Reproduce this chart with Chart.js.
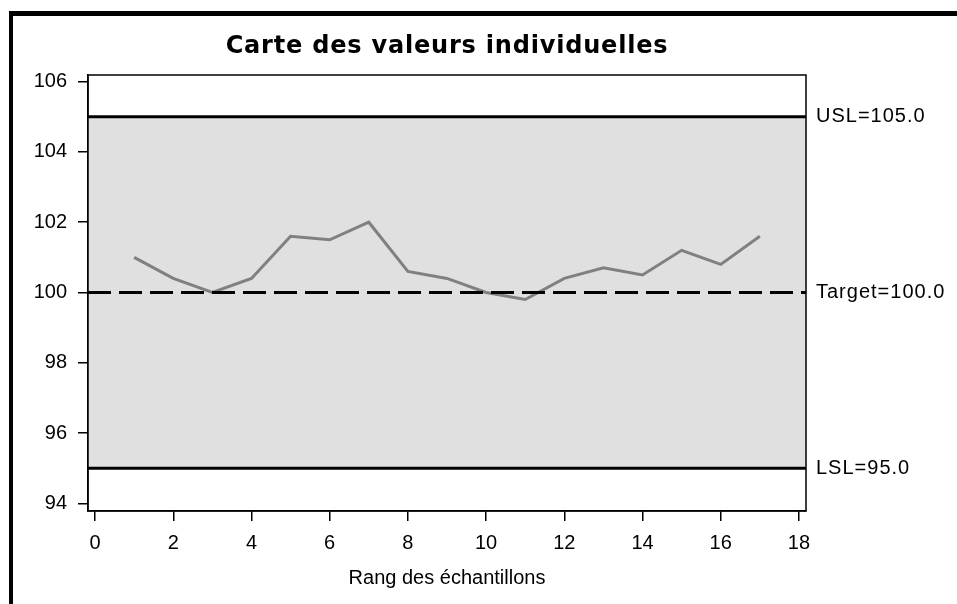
<!DOCTYPE html>
<html>
<head>
<meta charset="utf-8">
<script src="https://cdn.jsdelivr.net/npm/chart.js@4/dist/chart.umd.min.js"></script>
<style>
  html, body { margin: 0; padding: 0; background: #fff; }
  #wrap { position: absolute; left: 0; top: 0; width: 957px; height: 604px; }
</style>
</head>
<body>
<div id="wrap"><canvas id="c" width="957" height="604"></canvas></div>
<script>
// ---- data ----
const samples = [1, 2, 3, 4, 5, 6, 7, 8, 9, 10, 11, 12, 13, 14, 15, 16, 17];
const values  = [101.0, 100.4, 100.0, 100.4, 101.6, 101.5, 102.0, 100.6, 100.4, 100.0, 99.8, 100.4, 100.7, 100.5, 101.2, 100.8, 101.6];
const xTicks = [0, 2, 4, 6, 8, 10, 12, 14, 16, 18];
const yTicks = [94, 96, 98, 100, 102, 104, 106];
const specNames = ['USL', 'Target', 'LSL'];
const specValues = [105.0, 100.0, 95.0];
const titleText = 'Carte des valeurs individuelles';
const xTitleText = 'Rang des échantillons';

const USL = specValues[0], TARGET = specValues[1], LSL = specValues[2];
const tickFont = { family: '"Liberation Sans", Arial, sans-serif', size: 20 };
const titleFont = 'bold 24px "DejaVu Sans", sans-serif';

const specPlugin = {
  id: 'spec',
  beforeDraw(chart) {
    const ctx = chart.ctx;
    ctx.save();
    ctx.fillStyle = '#000';
    ctx.fillRect(9, 11, 957 - 9, 5);
    ctx.fillRect(9, 11, 4, 604 - 11);
    ctx.restore();
  },
  beforeDatasetsDraw(chart) {
    const { ctx, chartArea: a, scales: { y } } = chart;
    ctx.save();
    const yU = y.getPixelForValue(USL), yL = y.getPixelForValue(LSL);
    ctx.fillStyle = '#e0e0e0';
    ctx.fillRect(a.left, yU, a.right - a.left, yL - yU);
    ctx.restore();
  },
  afterDatasetsDraw(chart) {
    const { ctx, chartArea: a, scales: { y } } = chart;
    ctx.save();
    ctx.strokeStyle = '#000';
    ctx.lineWidth = 3;
    [USL, LSL].forEach(v => {
      const py = y.getPixelForValue(v);
      ctx.beginPath(); ctx.moveTo(a.left, py); ctx.lineTo(a.right, py); ctx.stroke();
    });
    const pt = y.getPixelForValue(TARGET);
    ctx.setLineDash([23, 8]);
    ctx.beginPath(); ctx.moveTo(a.left, pt); ctx.lineTo(a.right, pt); ctx.stroke();
    ctx.setLineDash([]);
    // frame
    ctx.lineWidth = 1.5;
    ctx.strokeRect(a.left, a.top, a.right - a.left, a.bottom - a.top);
    // spec labels
    ctx.fillStyle = '#000';
    ctx.font = tickFont.size + 'px ' + tickFont.family;
    ctx.letterSpacing = '1px';
    ctx.textAlign = 'left';
    ctx.textBaseline = 'middle';
    specNames.forEach((n, i) => {
      ctx.fillText(n + '=' + specValues[i].toFixed(1), a.right + 10, y.getPixelForValue(specValues[i]));
    });
    // title centred over the plot area
    ctx.font = titleFont;
    ctx.letterSpacing = '0.8px';
    ctx.textAlign = 'center';
    ctx.textBaseline = 'alphabetic';
    ctx.fillText(titleText, (a.left + a.right) / 2, 53);
    ctx.restore();
  }
};

new Chart(document.getElementById('c'), {
  type: 'line',
  data: {
    datasets: [{
      data: samples.map((s, i) => ({ x: s, y: values[i] })),
      borderColor: '#808080',
      borderWidth: 3,
      pointRadius: 0,
      tension: 0,
      fill: false
    }]
  },
  options: {
    responsive: false,
    animation: false,
    devicePixelRatio: 1,
    layout: { padding: { left: 0, right: 151, top: 75, bottom: 0 } },
    plugins: {
      legend: { display: false },
      tooltip: { enabled: false },
      title: { display: false }
    },
    scales: {
      x: {
        type: 'linear',
        min: -0.18, max: 18.18,
        afterBuildTicks: s => { s.ticks = xTicks.map(v => ({ value: v })); },
        afterFit: s => { s.height = 93; },
        grid: { drawOnChartArea: false, color: '#000', lineWidth: 1.5, tickLength: 10 },
        border: { display: true, color: '#000', width: 1.5 },
        ticks: { color: '#000', font: tickFont, padding: 10, maxRotation: 0 },
        title: { display: true, text: xTitleText, color: '#000', font: tickFont, padding: { top: 0, bottom: 14 } }
      },
      y: {
        type: 'linear',
        min: 93.78, max: 106.19,
        afterBuildTicks: s => { s.ticks = yTicks.map(v => ({ value: v })); },
        afterFit: s => { s.width = 88; },
        grid: { drawOnChartArea: false, color: '#000', lineWidth: 1.5, tickLength: 10 },
        border: { display: true, color: '#000', width: 1.5 },
        ticks: { color: '#000', font: tickFont, padding: 11 }
      }
    }
  },
  plugins: [specPlugin]
});
</script>
</body>
</html>
